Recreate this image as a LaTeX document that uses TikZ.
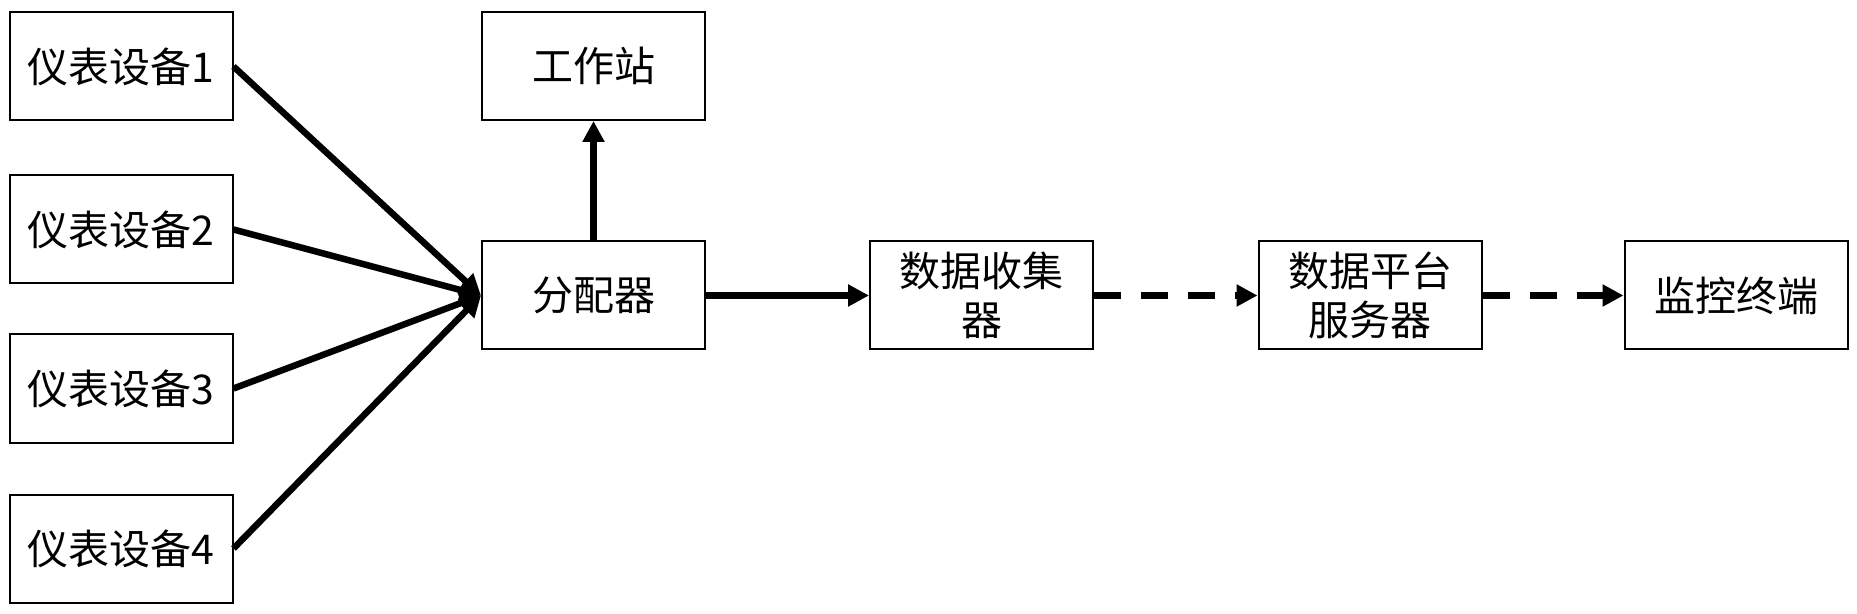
\documentclass[tikz,border=0pt]{standalone}
\usepackage{fontspec}
\setmainfont{Noto Sans CJK SC}
\usetikzlibrary{positioning, arrows.meta}

\tikzset{
  box/.style={draw, line width=1pt, minimum width=111.5pt, minimum height=54pt,
    inner sep=0pt, align=center, font=\fontsize{20.5}{24.5}\selectfont},
  link/.style={line width=3.25pt, -{Triangle[length=10.5pt,width=10.5pt]}},
  dashlink/.style={link, dash pattern=on 13.5pt off 10pt}
}

\begin{document}
\begin{tikzpicture}[x=0.5pt,y=-0.5pt]
  \useasboundingbox (0,0) rectangle (1857,614);
  \def\midy{295.5}

  % Draw instrument devices
  \foreach \i/\y in {1/66.5, 2/229.5, 3/388.5, 4/548.5}{
    \node[box] (dev\i) at (121,\y) {仪表设备\i};
  }

  % Draw the chain of boxes
  \node[box] (station) at (593.5,66) {工作站};
  \node[box] (splitter) at (593.5,\midy) {分配器};
  \node[box] (collector) at (981.5,\midy) {数据收集\\器};
  \node[box] (server) at (1370,\midy) {数据平台\\服务器};
  \node[box] (monitor) at (1736,\midy) {监控终端};

  % Devices feed the splitter
  \foreach \i in {1,...,4}{
    \draw[link] (dev\i.east) -- (splitter.west);
  }

  % Arrows along the chain
  \draw[link] (splitter.north) -- (station.south);
  \draw[link] (splitter.east) -- (collector.west);
  \draw[dashlink] (collector.east) -- (server.west);
  \draw[dashlink] (server.east) -- (monitor.west);

\end{tikzpicture}
\end{document}
